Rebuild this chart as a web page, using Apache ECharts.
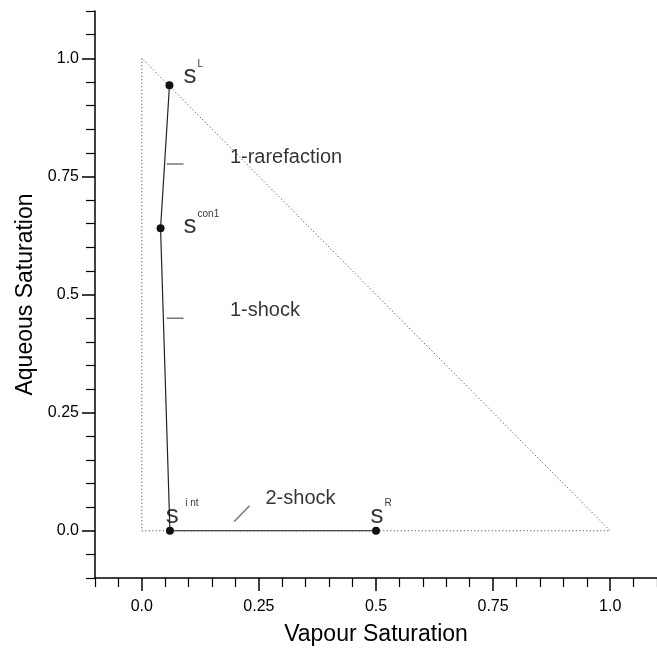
<!DOCTYPE html>
<html>
<head>
<meta charset="utf-8">
<script src="https://cdn.jsdelivr.net/npm/echarts@6/dist/echarts.min.js"></script>
<style>
  html, body { margin: 0; padding: 0; background: #fff; }
  #chart { width: 657px; height: 651px; }
</style>
</head>
<body>
<div id="chart"></div>
<script>
// wave path in the saturation triangle: L -> con1 -> int -> R
const pathX = [0.059, 0.04, 0.06, 0.5];
const pathY = [0.943, 0.64, 0.0, 0.0];

// boundary of the admissible region (dotted triangle)
const triX = [0, 0, 1, 0];
const triY = [1, 0, 0, 1];

// little leader marks next to the wave names
const leaders = [
  [[0.053, 0.776], [0.089, 0.776]],
  [[0.053, 0.45], [0.089, 0.45]],
  [[0.197, 0.019], [0.23, 0.053]]
];

// annotation text and where it sits
const notes = [
  { x: 0.089, y: 0.962, text: "{s|s}{sup|L}" },
  { x: 0.188, y: 0.79, text: "1-rarefaction" },
  { x: 0.089, y: 0.645, text: "{s|s}{sup|con1}" },
  { x: 0.188, y: 0.467, text: "1-shock" },
  { x: 0.051, y: 0.032, text: "{s|s}{sup|  i nt}" },
  { x: 0.264, y: 0.068, text: "2-shock" },
  { x: 0.488, y: 0.032, text: "{s|s}{sup|R}" }
];

const majorTicks = [0, 0.25, 0.5, 0.75, 1];
const majorLabels = ["0.0", "0.25", "0.5", "0.75", "1.0"];
const minorTicks = [-0.1, -0.05, 0.05, 0.1, 0.15, 0.2, 0.3, 0.35, 0.4, 0.45,
  0.55, 0.6, 0.65, 0.7, 0.8, 0.85, 0.9, 0.95, 1.05, 1.1];

const font = "Liberation Sans, Arial, Helvetica, sans-serif";
const fmt = v => {
  const i = majorTicks.indexOf(Math.round(v * 100) / 100);
  return i >= 0 ? majorLabels[i] : "";
};

function mainAxis(pos, name, gap, labelMargin) {
  return {
    type: "value", min: -0.1, max: 1.1, position: pos,
    name: name, nameLocation: "middle", nameGap: gap,
    nameTextStyle: { fontFamily: font, fontSize: 23, color: "#000" },
    axisLine: { show: true, onZero: false, lineStyle: { color: "#000", width: 1.5 } },
    axisTick: { show: true, length: 9, customValues: minorTicks, lineStyle: { color: "#000", width: 1.2 } },
    axisLabel: { customValues: majorTicks, formatter: fmt, margin: labelMargin,
      fontFamily: font, fontSize: 16, color: "#000" },
    splitLine: { show: false }
  };
}
function majorAxis(pos) {
  return {
    type: "value", min: -0.1, max: 1.1, position: pos,
    axisLine: { show: false, onZero: false },
    axisTick: { show: true, length: 13, customValues: majorTicks, lineStyle: { color: "#000", width: 1.5 } },
    axisLabel: { show: false },
    splitLine: { show: false }
  };
}

const chart = echarts.init(document.getElementById("chart"));
const series = [];

series.push({
  type: "line", xAxisIndex: 0, yAxisIndex: 0,
  data: triX.map((x, i) => [x, triY[i]]),
  symbol: "none", silent: true,
  lineStyle: { color: "#333", width: 1, type: [1, 2.5] }
});

leaders.forEach(seg => series.push({
  type: "line", xAxisIndex: 0, yAxisIndex: 0,
  data: seg, symbol: "none", silent: true,
  lineStyle: { color: "#777", width: 1.5 }
}));

series.push({
  type: "line", xAxisIndex: 0, yAxisIndex: 0,
  data: pathX.map((x, i) => [x, pathY[i]]),
  symbol: "circle", symbolSize: 8, showAllSymbol: true,
  itemStyle: { color: "#111" },
  lineStyle: { color: "#222", width: 1.2 }
});

series.push({
  type: "scatter", xAxisIndex: 0, yAxisIndex: 0,
  symbolSize: 0, silent: true,
  data: notes.map(n => ({ value: [n.x, n.y], label: { formatter: n.text } })),
  label: {
    show: true, position: "right", distance: 0,
    fontFamily: font, fontSize: 20, color: "#000",
    rich: {
      s: { fontFamily: font, fontSize: 26, lineHeight: 26, verticalAlign: "bottom", color: "#000" },
      sup: { fontFamily: font, fontSize: 10, lineHeight: 12, verticalAlign: "bottom", color: "#000", padding: [0, 0, 20, 1] }
    }
  }
});

chart.setOption({
  backgroundColor: "#fff",
  animation: false,
  grid: { left: 95, top: 11, bottom: 72, right: -6 },
  xAxis: [mainAxis("bottom", "Vapour Saturation", 45, 21), majorAxis("bottom")],
  yAxis: [mainAxis("left", "Aqueous Saturation", 54, 16), majorAxis("left")],
  series: series
});
</script>
</body>
</html>
